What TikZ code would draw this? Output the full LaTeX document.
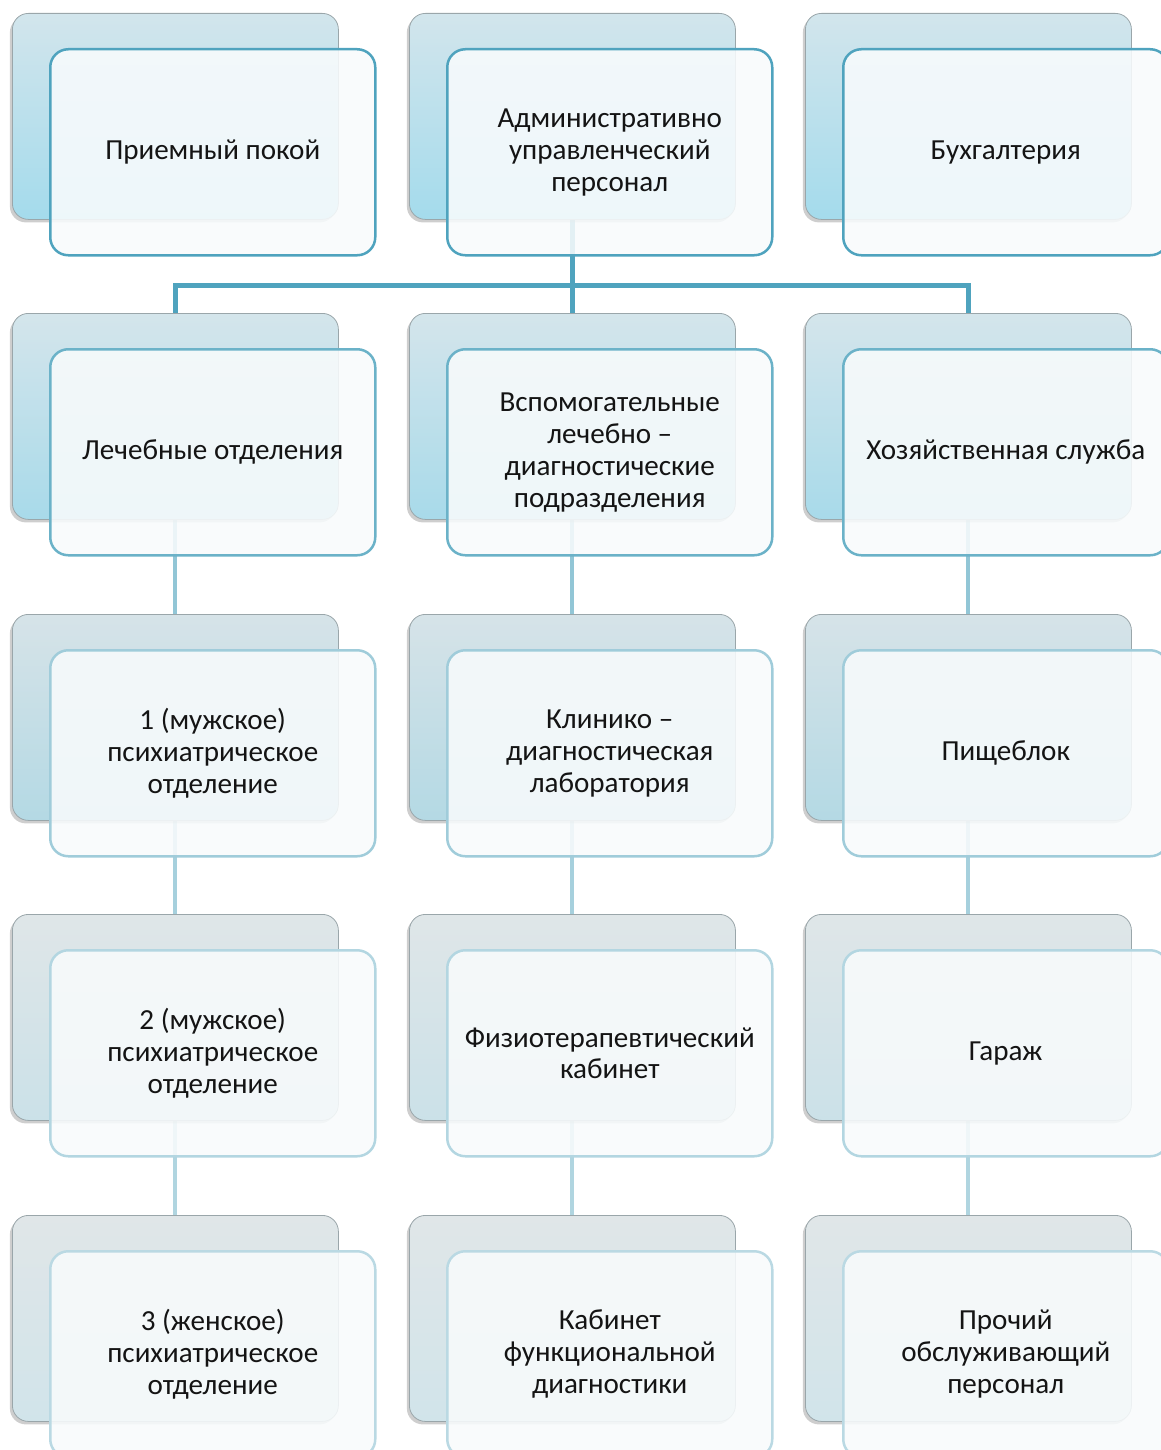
\documentclass[tikz,border=0pt]{standalone}
\usepackage{fontspec}
\setmainfont{Carlito}
\usetikzlibrary{shadows,backgrounds}
\definecolor{busc}{HTML}{4FA3BE}
\definecolor{cc2}{HTML}{92C6D6}
\definecolor{cc3}{HTML}{A6D0DD}
\definecolor{cc4}{HTML}{B0D5E0}
\definecolor{fb1}{HTML}{4FA3BE}
\definecolor{fb2}{HTML}{6BB2C8}
\definecolor{fb3}{HTML}{A0CCDA}
\definecolor{fb4}{HTML}{B3D6E1}
\definecolor{fb5}{HTML}{BAD9E3}
\definecolor{frfill}{HTML}{F8FBFC}
\definecolor{bkline}{HTML}{9AA6AA}
\tikzset{
  x=1bp, y=-1bp,
  backbox/.style={draw=bkline, line width=0.8bp, rounded corners=16bp,
    minimum width=326bp, minimum height=206bp, inner sep=0pt,
    drop shadow={shadow xshift=-2.5bp, shadow yshift=-3bp, opacity=0.35, fill=black!55}},
  frontbox/.style={draw, rounded corners=18bp, minimum width=325bp, minimum height=206bp,
    inner sep=0pt, fill=frfill, fill opacity=0.88, text opacity=1, line width=2.5bp,
    align=center, font=\fontsize{29.2}{32}\selectfont, text=black!92},
  bk1/.style={top color={rgb,255:red,210;green,229;blue,236}, bottom color={rgb,255:red,164;green,219;blue,236}},
  bk2/.style={top color={rgb,255:red,212;green,229;blue,235}, bottom color={rgb,255:red,168;green,218;blue,234}},
  bk3/.style={top color={rgb,255:red,214;green,227;blue,232}, bottom color={rgb,255:red,180;green,217;blue,228}},
  bk4/.style={top color={rgb,255:red,223;green,230;blue,232}, bottom color={rgb,255:red,203;green,225;blue,232}},
  bk5/.style={top color={rgb,255:red,224;green,230;blue,232}, bottom color={rgb,255:red,209;green,228;blue,234}},
  f1/.style={draw=fb1}, f2/.style={draw=fb2}, f3/.style={draw=fb3},
  f4/.style={draw=fb4}, f5/.style={draw=fb5},
  busline/.style={draw=busc, line width=5bp},
  link2/.style={draw=cc2, line width=4bp},
  link3/.style={draw=cc3, line width=4bp},
  link4/.style={draw=cc4, line width=4bp}
}
\newcommand\orgunit[6]{%
  \node[backbox,bk#4,anchor=north west] (bk#1) at (#2,#3) {};
  \node[frontbox,f#5,anchor=north west] (fr#1) at ({#2+37},{#3+35}) {#6};
}
\begin{document}
\begin{tikzpicture}
\useasboundingbox (0,0) rectangle (1160,1450);
% row 1
\orgunit{11}{12}{13}{1}{1}{Приемный покой}
\orgunit{12}{409}{13}{1}{1}{Административно\\управленческий\\персонал}
\orgunit{13}{805}{13}{1}{1}{Бухгалтерия}
% row 2
\orgunit{21}{12}{313}{2}{2}{Лечебные отделения}
\orgunit{22}{409}{313}{2}{2}{Вспомогательные\\лечебно –\\диагностические\\подразделения}
\orgunit{23}{805}{313}{2}{2}{Хозяйственная служба}
% row 3
\orgunit{31}{12}{614}{3}{3}{1 (мужское)\\психиатрическое\\отделение}
\orgunit{32}{409}{614}{3}{3}{Клинико –\\диагностическая\\лаборатория}
\orgunit{33}{805}{614}{3}{3}{Пищеблок}
% row 4
\orgunit{41}{12}{914}{4}{4}{2 (мужское)\\психиатрическое\\отделение}
\orgunit{42}{409}{914}{4}{4}{Физиотерапевтический\\кабинет}
\orgunit{43}{805}{914}{4}{4}{Гараж}
% row 5
\orgunit{51}{12}{1215}{5}{5}{3 (женское)\\психиатрическое\\отделение}
\orgunit{52}{409}{1215}{5}{5}{Кабинет\\функциональной\\диагностики}
\orgunit{53}{805}{1215}{5}{5}{Прочий\\обслуживающий\\персонал}
% connectors
\begin{scope}[on background layer]
\draw[busline] (bk12.center) -- (bk22.center);
\draw[busline] (bk21.north) -- ++(0,-28) -| (bk23.north);
\foreach \c in {1,2,3}{
  \draw[link2] (bk2\c.center) -- (bk3\c.center);
  \draw[link3] (bk3\c.center) -- (bk4\c.center);
  \draw[link4] (bk4\c.center) -- (bk5\c.center);
}
\end{scope}
\end{tikzpicture}
\end{document}
